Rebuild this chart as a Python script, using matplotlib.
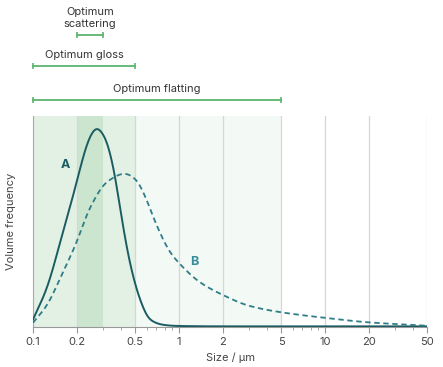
import numpy as np
import matplotlib
matplotlib.use("Agg")
import matplotlib.pyplot as plt
import matplotlib.transforms as mtransforms

plt.rcParams['font.family'] = ['Inter', 'DejaVu Sans']

# curve A (solid)
size_a = [0.1, 0.124, 0.161, 0.194, 0.221, 0.246, 0.273, 0.311, 0.355, 0.405, 0.461, 0.54, 0.63, 0.78, 0.96, 2.0, 5.0, 10.0, 20.0, 50.0]
freq_a = [0.035, 0.18, 0.45, 0.65, 0.80, 0.895, 0.935, 0.89, 0.75, 0.51, 0.30, 0.13, 0.035, 0.01, 0.005, 0.003, 0.003, 0.003, 0.003, 0.003]

# curve B (dashed)
size_b = [0.1, 0.124, 0.161, 0.194, 0.246, 0.32, 0.426, 0.51, 0.58, 0.70, 0.87, 1.0, 1.39, 2.0, 3.0, 4.9, 10.0, 19.7, 50.0]
freq_b = [0.02, 0.10, 0.26, 0.38, 0.56, 0.68, 0.72, 0.69, 0.62, 0.48, 0.35, 0.30, 0.21, 0.15, 0.10, 0.07, 0.043, 0.022, 0.006]

ticks = [0.1, 0.2, 0.5, 1, 2, 5, 10, 20, 50]
tick_labels = ["0.1", "0.2", "0.5", "1", "2", "5", "10", "20", "50"]

# ranges (label, low, high)
ranges = [("Optimum\nscattering", 0.2, 0.3), ("Optimum gloss", 0.1, 0.5), ("Optimum flatting", 0.1, 5)]


def pchip(xs, ys, n=800):
    # monotone cubic interpolation in log-x, then a light blur to hide kinks
    x = np.log10(np.asarray(xs, float))
    y = np.asarray(ys, float)
    h = np.diff(x)
    d = np.diff(y) / h
    m = np.zeros_like(y)
    m[0], m[-1] = d[0], d[-1]
    for i in range(1, len(y) - 1):
        if d[i - 1] * d[i] > 0:
            w1 = 2 * h[i] + h[i - 1]
            w2 = h[i] + 2 * h[i - 1]
            m[i] = (w1 + w2) / (w1 / d[i - 1] + w2 / d[i])
    g = np.linspace(x[0], x[-1], n)
    idx = np.clip(np.searchsorted(x, g) - 1, 0, len(x) - 2)
    t = (g - x[idx]) / h[idx]
    h00 = 2 * t**3 - 3 * t**2 + 1
    h10 = t**3 - 2 * t**2 + t
    h01 = -2 * t**3 + 3 * t**2
    h11 = t**3 - t**2
    out = h00 * y[idx] + h10 * h[idx] * m[idx] + h01 * y[idx + 1] + h11 * h[idx] * m[idx + 1]
    step = g[1] - g[0]
    sig = 0.018 / step
    k = np.arange(-int(4 * sig), int(4 * sig) + 1)
    k = np.exp(-0.5 * (k / sig) ** 2)
    k /= k.sum()
    half = len(k) // 2
    pad = np.pad(out, half, mode="reflect", reflect_type="odd")
    out = np.convolve(pad, k, mode="valid")
    return 10 ** g, out


fig = plt.figure(figsize=(4.43, 3.67), dpi=100)
ax = fig.add_axes([0.0745, 0.109, 0.8895, 0.575])
ax.set_xscale("log")
ax.set_xlim(0.1, 50)
ax.set_ylim(0, 0.99)

ax.axvspan(0.1, 5, color="#f3f9f4", lw=0, zorder=0)
ax.axvspan(0.1, 0.5, color="#e2f1e4", lw=0, zorder=0)
ax.axvspan(0.2, 0.3, color="#cbe5cf", lw=0, zorder=0)
for t in ticks:
    ax.axvline(t, color="#d6d6d6", lw=0.9, zorder=1)

xa, ya = pchip(size_a, freq_a)
xb, yb = pchip(size_b, freq_b)
ax.plot(xa, ya, color="#1b5c63", lw=1.4, zorder=3)
ax.plot(xb, yb, color="#2f7d88", lw=1.3, ls=(0, (3, 2)), zorder=3)

ax.text(0.155, 0.745, "A", color="#1b5c63", fontsize=9, fontweight="bold")
ax.text(1.2, 0.29, "B", color="#3a8d9a", fontsize=9, fontweight="bold")

ax.set_xticks(ticks)
ax.set_xticklabels(tick_labels, fontsize=8, color="#444444")
ax.tick_params(axis="x", which="major", length=4, color="#999999")
ax.tick_params(axis="x", which="minor", length=2.5, color="#999999")
ax.xaxis.set_minor_formatter(matplotlib.ticker.NullFormatter())
ax.set_yticks([])
for s in ["top", "right"]:
    ax.spines[s].set_visible(False)
ax.spines["left"].set_color("#aaaaaa")
ax.spines["bottom"].set_color("#999999")
ax.set_xlabel("Size / µm", fontsize=8, color="#444444", labelpad=4)
ax.set_ylabel("Volume frequency", fontsize=8, color="#444444", labelpad=12)

trans = mtransforms.blended_transform_factory(ax.transData, ax.transAxes)
bracket_y = [1.384, 1.237, 1.076]
for (label, lo, hi), by in zip(ranges, bracket_y):
    ax.plot([lo, hi], [by, by], color="#5cb56e", lw=1.3, transform=trans, clip_on=False)
    ax.plot([lo, hi], [by, by], ls="none", marker="|", ms=5, mew=1.2, color="#5cb56e", transform=trans, clip_on=False)
    mid = 10 ** ((np.log10(lo) + np.log10(hi)) / 2)
    ax.text(mid, by + 0.03, label, transform=trans, ha="center", va="bottom", fontsize=8, color="#333333", linespacing=1.2)

fig.savefig("out.png", dpi=100)
